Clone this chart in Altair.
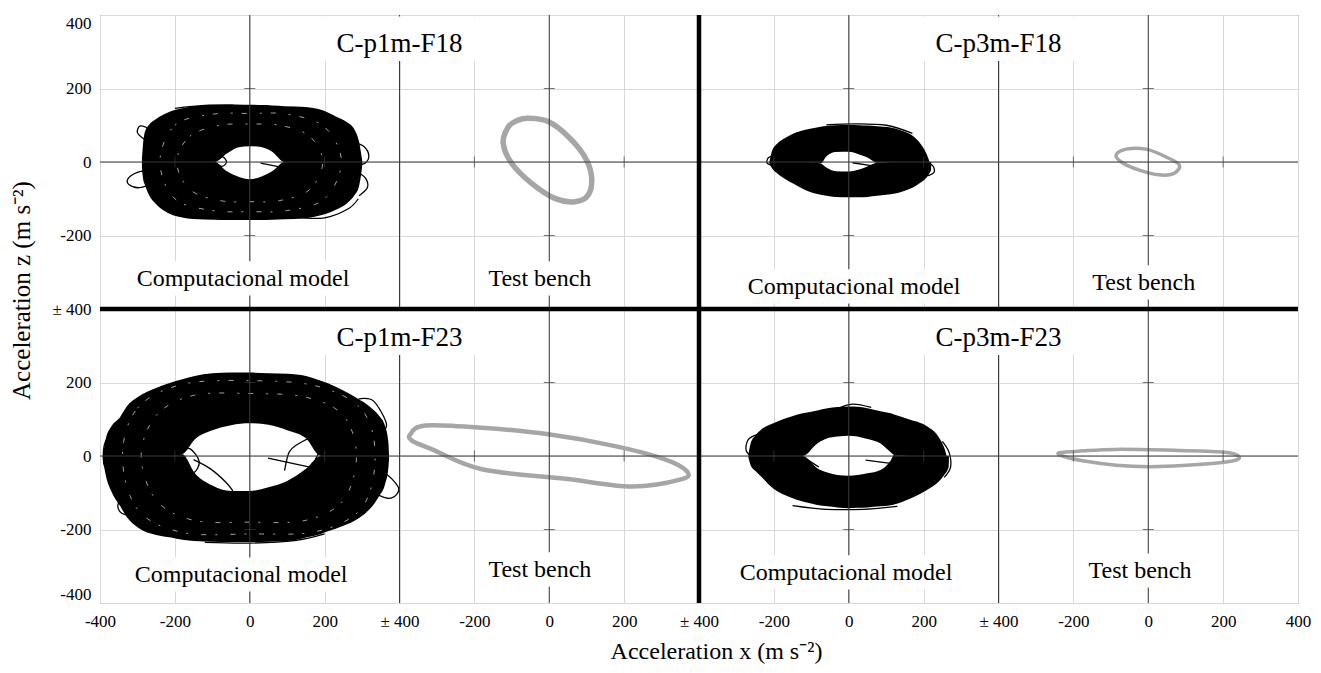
import altair as alt
import pandas as pd

FONT = "Liberation Serif"

# ---------------- panel layout (local coordinates are shifted by these) -------------
CASES = ["C-p1m-F18", "C-p3m-F18", "C-p1m-F23", "C-p3m-F23"]
MODEL_X0 = [0, 1600, 0, 1600]
TEST_X0 = [800, 2400, 800, 2400]
PANEL_Y0 = [800, 800, 0, 0]

# ---------------- computational model rings ----------------------------------------
R1_X = [-288, -285, -280, -270, -250, -220, -190, -150, -95, -60, -30, 0, 30, 60, 93, 150, 190, 230, 260, 280, 292, 298, 301]
R1_OUT_TOP = [10, 50, 82, 100, 117, 134, 144, 152, 155, 155, 155, 155, 155, 154, 152, 150, 142, 124, 108, 88, 55, 20, 0]
R1_OUT_BOT = [-15, -45, -62, -88, -115, -138, -149, -155, -157, -158, -158, -158, -158, -157, -156, -153, -145, -130, -112, -90, -65, -30, -4]
R1_IN_TOP = [0, 0, 0, 0, 0, 0, 0, 0, 0, 24, 40, 43, 41, 28, 0, 0, 0, 0, 0, 0, 0, 0, 0]
R1_IN_BOT = [0, 0, 0, 0, 0, 0, 0, 0, 0, -26, -40, -47, -40, -25, 0, 0, 0, 0, 0, 0, 0, 0, 0]

R2_X = [-212, -205, -190, -170, -146, -110, -75, -60, -35, 0, 30, 50, 76, 112, 150, 174, 195, 208, 216, 220]
R2_OUT_TOP = [0, 30, 51, 65, 78, 89, 96, 98, 100, 101, 100, 99, 97, 94, 82, 69, 45, 22, 0, -12]
R2_OUT_BOT = [-5, -17, -32, -46, -60, -79, -89, -92, -95, -96, -96, -95, -92, -88, -78, -68, -54, -42, -30, -22]
R2_IN_TOP = [0, 0, 0, 0, 0, 0, -4, 15, 27, 28, 20, 12, -2, 0, 0, 0, 0, 0, 0, 0]
R2_IN_BOT = [0, 0, 0, 0, 0, 0, -4, -15, -25, -26, -20, -12, -2, 0, 0, 0, 0, 0, 0, 0]

R3_X = [-392, -385, -370, -347, -329, -298, -250, -210, -180, -147, -100, -50, 0, 50, 100, 150, 190, 209, 250, 290, 320, 345, 362, 370, 372]
R3_OUT_TOP = [0, 45, 80, 105, 134, 161, 185, 200, 209, 218, 225, 227, 227, 225, 224, 218, 205, 198, 178, 155, 135, 110, 80, 40, 0]
R3_OUT_BOT = [-10, -50, -95, -135, -165, -195, -215, -222, -228, -231, -233, -234, -234, -233, -232, -222, -212, -205, -190, -170, -145, -110, -75, -35, -10]
R3_IN_TOP = [0, 0, 0, 0, 0, 0, 0, 0, 5, 45, 70, 84, 89, 85, 70, 48, 0, 0, 0, 0, 0, 0, 0, 0, 0]
R3_IN_BOT = [0, 0, 0, 0, 0, 0, 0, 0, 5, -46, -80, -95, -95, -85, -68, -35, 0, 0, 0, 0, 0, 0, 0, 0, 0]

R4_X = [-268, -262, -250, -235, -200, -155, -123, -84, -57, -30, 0, 23, 50, 85, 112, 121, 160, 210, 240, 256, 264, 267]
R4_OUT_TOP = [5, 35, 55, 71, 90, 107, 116, 124, 130, 133, 135, 134, 130, 122, 116, 113, 100, 80, 52, 20, -10, -25]
R4_OUT_BOT = [-5, -25, -40, -55, -90, -113, -124, -133, -137, -140, -142, -141, -140, -137, -134, -132, -118, -92, -70, -50, -38, -30]
R4_IN_TOP = [0, 0, 0, 0, 0, 0, 0, 34, 48, 53, 55, 53, 46, 34, 10, 3, 0, 0, 0, 0, 0, 0]
R4_IN_BOT = [0, 0, 0, 0, 0, 0, 0, -33, -45, -52, -54, -52, -47, -38, -12, 3, 0, 0, 0, 0, 0, 0]

RINGS = [
    (R1_X, R1_OUT_TOP, R1_OUT_BOT, R1_IN_TOP, R1_IN_BOT),
    (R2_X, R2_OUT_TOP, R2_OUT_BOT, R2_IN_TOP, R2_IN_BOT),
    (R3_X, R3_OUT_TOP, R3_OUT_BOT, R3_IN_TOP, R3_IN_BOT),
    (R4_X, R4_OUT_TOP, R4_OUT_BOT, R4_IN_TOP, R4_IN_BOT),
]

# stray loops of the model trajectories (case index, x list, y list)
SCRIBBLE_CASE = [0, 0, 0, 0, 0, 0, 0, 0,
                 1, 1, 1, 1,
                 2, 2, 2, 2, 2, 2, 2, 2, 2,
                 3, 3, 3, 3, 3, 3]
SCRIBBLE_X = [
    [-265, -300, -325, -322, -295, -262],
    [282, 305, 318, 308, 283],
    [288, 310, 314, 292],
    [-262, -292, -300, -282],
    [29, 93],
    [-95, -75, -62, -72, -88],
    [-200, -120, -40, 40],
    [120, 200, 262, 290],
    [-195, -214, -218, -200],
    [205, 224, 228, 210],
    [10, 60],
    [-60, 20, 100, 170],
    [-185, -160, -135, -150, -178],
    [-150, -105, -65, -45],
    [49, 173],
    [93, 105, 125, 164, 185, 175],
    [330, 360, 396, 392, 369, 333],
    [-320, -351, -342, -298],
    [290, 330, 365, 350],
    [-350, -385, -390, -370],
    [-120, 0, 120, 200],
    [-240, -268, -274, -255],
    [250, 268, 272, 255],
    [-30, 10, 60],
    [45, 112],
    [-120, -95, -80],
    [-150, -60, 40, 130],
]
SCRIBBLE_Y = [
    [-22, -28, -45, -62, -70, -58],
    [52, 42, 18, -3, -8],
    [-28, -45, -70, -92],
    [88, 98, 80, 62],
    [-3, -16],
    [2, -12, 0, 14, 8],
    [146, 154, 155, 153],
    [-150, -152, -128, -100],
    [18, 12, -3, -10],
    [-2, -10, -28, -38],
    [-2, -10],
    [101, 104, 100, 78],
    [10, 20, -15, -45, -25],
    [-10, -35, -70, -95],
    [-6, -33],
    [-40, 10, 30, 48, 20, -10],
    [-60, -47, -83, -105, -115, -101],
    [-110, -129, -156, -165],
    [155, 150, 88, 60],
    [60, 40, -20, -50],
    [-235, -237, -230, -212],
    [60, 45, 15, -5],
    [40, 10, -30, -58],
    [128, 141, 132],
    [-11, -20],
    [-5, -20, -30],
    [-135, -145, -145, -137],
]

# light streaks visible inside the dense rings (case index, x list, y list)
STREAK_CASE = [0, 0, 2, 2]
STREAK_X = [
    [-195, -160, -80, 0, 80, 160, 195, 160, 80, 0, -80, -160],
    [-240, -200, -100, 0, 100, 200, 245, 200, 100, 0, -100, -200],
    [-290, -250, -150, 0, 150, 250, 285, 250, 150, 0, -150, -250],
    [-340, -300, -180, 0, 180, 300, 335, 300, 180, 0, -180, -300],
]
STREAK_Y = [
    [0, 70, 100, 103, 100, 70, 0, -75, -105, -108, -105, -75],
    [0, 100, 130, 132, 130, 95, 0, -100, -132, -135, -132, -100],
    [0, 110, 165, 170, 160, 110, 0, -120, -175, -180, -175, -120],
    [0, 130, 195, 205, 190, 125, 0, -140, -205, -212, -208, -145],
]

# ---------------- test bench loops -------------------------------------------------
TB_X = [
    [-56, -3, 51, 95, 113, 104, 69, 15, -47, -100, -123, -109, -83],
    [-86, -59, -6, 47, 83, 69, 29, -24, -69],
    [-371, -331, -180, -2, 176, 309, 367, 354, 220, 43, -180, -313, -366],
    [-237, -175, -86, 47, 198, 243, 216, 91, 3, -86, -175, -229],
]
TB_Y = [
    [119, 110, 69, 14, -40, -90, -108, -99, -58, -4, 51, 96, 114],
    [19, 35, 35, 14, -8, -31, -35, -22, -2],
    [59, 83, 77, 59, 27, -9, -41, -63, -83, -62, -36, 18, 41],
    [9, 14, 18, 16, 11, -2, -15, -26, -29, -25, -13, 0],
]
TB_STROKE = [5.5, 3.5, 4.5, 3.5]

# ---------------- annotation texts --------------------------------------------------
MODEL_LABEL = "Computacional model"
TEST_LABEL = "Test bench"
MODEL_LABEL_X = [-18, 14, -23, -7]
MODEL_LABEL_Y = [-318, -340, -324, -318]
TEST_LABEL_X = [-25, -12, -25, -22]
TEST_LABEL_Y = [-318, -329, -310, -313]
TITLE_X = [400, 400, 400, 400]
TITLE_Y = [320, 320, 320, 320]

# ---------------- build tables ------------------------------------------------------
band_rows = []
for i, (xs, ot, ob, it, ib) in enumerate(RINGS):
    for x, a, b, c, d in zip(xs, ot, ob, it, ib):
        band_rows.append({"key": f"{i}t", "x": MODEL_X0[i] + x, "y": PANEL_Y0[i] + a, "y2": PANEL_Y0[i] + c})
        band_rows.append({"key": f"{i}b", "x": MODEL_X0[i] + x, "y": PANEL_Y0[i] + b, "y2": PANEL_Y0[i] + d})
bands = pd.DataFrame(band_rows)

scr_rows = []
for k, (c, xs, ys) in enumerate(zip(SCRIBBLE_CASE, SCRIBBLE_X, SCRIBBLE_Y)):
    for j, (x, y) in enumerate(zip(xs, ys)):
        scr_rows.append({"id": k, "i": j, "x": MODEL_X0[c] + x, "y": PANEL_Y0[c] + y})
scribbles = pd.DataFrame(scr_rows)

st_rows = []
for k, (c, xs, ys) in enumerate(zip(STREAK_CASE, STREAK_X, STREAK_Y)):
    for j, (x, y) in enumerate(zip(xs, ys)):
        st_rows.append({"id": k, "i": j, "x": MODEL_X0[c] + x, "y": PANEL_Y0[c] + y})
streaks = pd.DataFrame(st_rows)

tb_frames = []
for c in range(4):
    tb_frames.append(pd.DataFrame({
        "i": list(range(len(TB_X[c]))),
        "x": [TEST_X0[c] + v for v in TB_X[c]],
        "y": [PANEL_Y0[c] + v for v in TB_Y[c]],
    }))

# structural lines
X_MIN, X_MAX, Y_MIN, Y_MAX = -400, 2800, -400, 1200
vthin = pd.DataFrame({"x": [0, 400, 800, 1600, 2000, 2400], "y": Y_MIN, "y2": Y_MAX})
hthin = pd.DataFrame({"y": [0, 800], "x": X_MIN, "x2": X_MAX})
vthick = pd.DataFrame({"x": [1200], "y": Y_MIN, "y2": Y_MAX})
hthick = pd.DataFrame({"y": [400], "x": X_MIN, "x2": X_MAX})

sub_x0 = MODEL_X0 + TEST_X0
sub_y0 = PANEL_Y0 + PANEL_Y0
hticks = pd.DataFrame([{"x": ox, "y": oy + d} for ox, oy in zip(sub_x0, sub_y0) for d in (-200, 200)])
vticks = pd.DataFrame([{"x": ox + d, "y": oy} for ox, oy in zip(sub_x0, sub_y0) for d in (-200, 200)])

text_rows = []
box_rows = []
for c in range(4):
    ox, tx, oy = MODEL_X0[c], TEST_X0[c], PANEL_Y0[c]
    text_rows.append({"t": CASES[c], "x": ox + TITLE_X[c], "y": oy + TITLE_Y[c], "s": 27})
    text_rows.append({"t": MODEL_LABEL, "x": ox + MODEL_LABEL_X[c], "y": oy + MODEL_LABEL_Y[c], "s": 24})
    text_rows.append({"t": TEST_LABEL, "x": tx + TEST_LABEL_X[c], "y": oy + TEST_LABEL_Y[c], "s": 24})
    box_rows.append({"x": ox + 130, "x2": ox + 668, "y": oy + 275, "y2": oy + 396})
    box_rows.append({"x": ox + MODEL_LABEL_X[c] - 305, "x2": ox + MODEL_LABEL_X[c] + 305,
                     "y": oy + MODEL_LABEL_Y[c] - 45, "y2": oy + MODEL_LABEL_Y[c] + 48})
    box_rows.append({"x": tx + TEST_LABEL_X[c] - 165, "x2": tx + TEST_LABEL_X[c] + 165,
                     "y": oy + TEST_LABEL_Y[c] - 45, "y2": oy + TEST_LABEL_Y[c] + 48})
texts = pd.DataFrame(text_rows)
boxes = pd.DataFrame(box_rows)

# ---------------- scales and axes ---------------------------------------------------
xsc = alt.Scale(domain=[X_MIN, X_MAX], nice=False, zero=False)
ysc = alt.Scale(domain=[Y_MIN, Y_MAX], nice=False, zero=False)

x_expr = ("datum.value == -400 ? '-400' : datum.value == 2800 ? '400' : "
          "((datum.value + 400) % 800 == 0 ? '± 400' : "
          "(((datum.value + 400) % 800 - 400) < 0 ? '-' : '') + abs((datum.value + 400) % 800 - 400))")
y_expr = ("datum.value == -400 ? '-400' : datum.value == 1200 ? '400' : "
          "((datum.value + 400) % 800 == 0 ? '± 400' : "
          "(((datum.value + 400) % 800 - 400) < 0 ? '-' : '') + abs((datum.value + 400) % 800 - 400))")

xaxis = alt.Axis(values=list(range(-400, 2801, 200)), labelExpr=x_expr,
                 title="Acceleration x (m s⁻²)", grid=True, gridColor="#d9d9d9", gridWidth=1,
                 ticks=False, domain=False, labelFont=FONT, labelFontSize=17, labelColor="black",
                 labelPadding=10, labelFlush=False, labelOverlap=False,
                 titleFont=FONT, titleFontSize=24, titleFontWeight="normal", titleColor="black",
                 titleX=616, titleY=48, titleBaseline="middle")
yaxis = alt.Axis(values=list(range(-400, 1201, 200)), labelExpr=y_expr,
                 title="Acceleration z (m s⁻²)", grid=True, gridColor="#d9d9d9", gridWidth=1,
                 ticks=False, domain=False, labelFont=FONT, labelFontSize=17, labelColor="black",
                 labelPadding=9, labelFlush=True, labelOverlap=False,
                 titleFont=FONT, titleFontSize=25, titleFontWeight="normal", titleColor="black",
                 titleX=-79, titleY=275, titleBaseline="middle")


def X(f="x"):
    return alt.X(f"{f}:Q", scale=xsc, axis=xaxis)


def Y(f="y"):
    return alt.Y(f"{f}:Q", scale=ysc, axis=yaxis, stack=None)


layers = []

# rings (dense model trajectories)
layers.append(alt.Chart(bands).mark_area(color="black", interpolate="monotone").encode(
    x=X(), y=Y(), y2="y2:Q", detail="key:N"))
layers.append(alt.Chart(streaks).mark_line(color="white", strokeWidth=0.9, opacity=0.7,
                                           strokeDash=[2, 9, 5, 13], interpolate="cardinal-closed").encode(
    x=X(), y=Y(), detail="id:N", order="i:Q"))
layers.append(alt.Chart(scribbles).mark_line(color="black", strokeWidth=1.3, interpolate="cardinal").encode(
    x=X(), y=Y(), detail="id:N", order="i:Q"))

# test bench loops
for c in range(4):
    layers.append(alt.Chart(tb_frames[c]).mark_line(color="#a6a6a6", strokeWidth=TB_STROKE[c],
                                                    interpolate="cardinal-closed").encode(
        x=X(), y=Y(), order="i:Q"))

# thin axes / separators and tick crosses
layers.append(alt.Chart(vthin).mark_rule(color="#3a3a3a", strokeWidth=1).encode(x=X(), y=Y(), y2="y2:Q"))
layers.append(alt.Chart(hthin).mark_rule(color="#3a3a3a", strokeWidth=1).encode(y=Y(), x=X(), x2="x2:Q"))
layers.append(alt.Chart(hticks).mark_tick(color="#3a3a3a", orient="horizontal", size=11, thickness=1).encode(
    x=X(), y=Y()))
layers.append(alt.Chart(vticks).mark_tick(color="#3a3a3a", orient="vertical", size=11, thickness=1).encode(
    x=X(), y=Y()))

# white text boxes
layers.append(alt.Chart(boxes).mark_rect(color="white").encode(x=X(), x2="x2:Q", y=Y(), y2="y2:Q"))

# thick panel separators
layers.append(alt.Chart(vthick).mark_rule(color="black", strokeWidth=4.5).encode(x=X(), y=Y(), y2="y2:Q"))
layers.append(alt.Chart(hthick).mark_rule(color="black", strokeWidth=4.5).encode(y=Y(), x=X(), x2="x2:Q"))

# texts
layers.append(alt.Chart(texts).mark_text(font=FONT, color="black", baseline="middle", align="center").encode(
    x=X(), y=Y(), text="t:N", size=alt.Size("s:Q", scale=None, legend=None)))

chart = alt.layer(*layers).properties(
    width=1198, height=588,
    autosize=alt.AutoSizeParams(type="none"),
    padding={"left": 92, "top": 7, "right": 13, "bottom": 61},
    background="white",
).configure_view(stroke="#595959", strokeWidth=1)

chart.save("out.html", embed_options={"renderer": "svg", "actions": False})
